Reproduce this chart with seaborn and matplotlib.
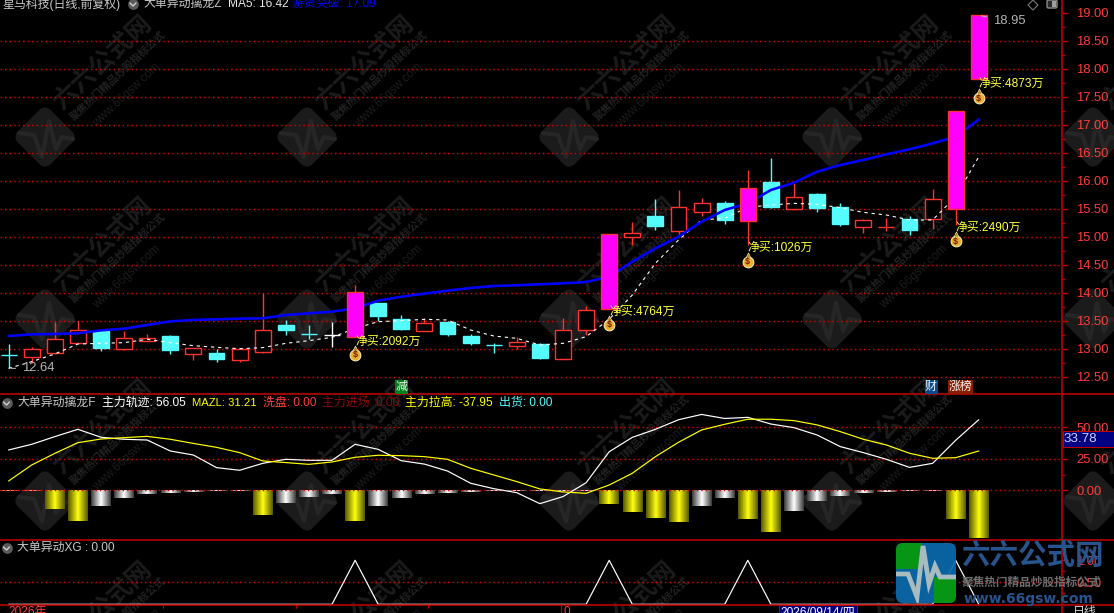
import numpy as np
import pandas as pd
import seaborn as sns
import matplotlib
matplotlib.use("Agg")
import matplotlib.pyplot as plt
from matplotlib.patches import FancyBboxPatch, Rectangle, Polygon
from matplotlib.transforms import Affine2D
from matplotlib.ticker import FixedLocator

# ---------- data ----------
body_top = [12.887,12.988,13.167,13.327,13.315,13.184,13.184,13.226,13.006,12.917,12.988,13.327,13.422,13.268,13.238,
            14.006,13.815,13.524,13.452,13.476,13.226,13.060,13.113,13.083,13.327,13.684,15.042,15.059,15.369,15.524,
            15.595,15.595,15.863,15.976,15.702,15.762,15.524,15.292,15.178,15.310,15.667,17.238,18.952]
body_bot = [12.887,12.857,12.916,13.107,13.018,12.999,13.143,12.982,12.899,12.821,12.792,12.934,13.333,13.268,13.238,
            13.214,13.583,13.345,13.321,13.262,13.107,13.060,13.053,12.833,12.821,13.327,13.714,15.000,15.190,15.107,
            15.446,15.298,15.286,15.536,15.500,15.512,15.232,15.178,15.178,15.119,15.310,15.500,17.821]
high = [13.077,13.024,13.476,13.494,13.333,13.321,13.262,13.244,13.006,12.994,13.006,13.988,13.512,13.417,13.476,
        14.137,13.815,13.601,13.542,13.488,13.262,13.095,13.214,13.095,13.542,13.762,15.042,15.256,15.667,15.833,
        15.690,15.637,16.190,16.405,15.952,15.786,15.595,15.310,15.327,15.369,15.851,17.238,18.952]
low = [12.648,12.750,12.905,13.095,12.964,12.982,13.137,12.911,12.798,12.762,12.768,12.922,13.244,13.167,13.030,
       13.214,13.500,13.333,13.321,13.226,13.065,12.928,12.999,12.821,12.821,13.244,13.714,14.851,15.119,14.990,
       15.369,15.226,14.851,15.512,15.476,15.446,15.190,15.071,15.101,15.030,15.131,15.208,17.821]
candle_kind = list("crrrcrrcrcrrccwmccrcccrcrrmrcrrcmcrccrrcrmm")

blue_line = [13.226,13.256,13.262,13.274,13.327,13.357,13.422,13.488,13.512,13.524,13.536,13.542,13.601,13.631,13.661,
             13.720,13.857,13.928,13.982,14.036,14.083,14.119,14.131,14.149,14.167,14.190,14.286,14.553,14.791,15.000,
             15.268,15.476,15.595,15.833,15.964,16.161,16.280,16.369,16.470,16.560,16.667,16.786,17.095]
white_line = [12.648,12.768,12.905,13.083,13.095,13.107,13.167,13.107,13.053,13.024,12.999,13.018,13.095,13.143,13.202,
              13.363,13.482,13.500,13.524,13.512,13.333,13.226,13.184,13.065,13.095,13.214,13.524,13.958,14.524,14.940,
              15.298,15.327,15.524,15.565,15.595,15.577,15.518,15.434,15.387,15.298,15.298,15.714,16.428]

trace_line = [32.0,36.5,42.6,48.4,42.1,40.5,39.9,31.2,28.0,18.0,15.9,21.4,24.6,23.8,23.8,36.5,32.5,23.5,20.8,15.3,
              5.6,1.3,-1.9,-10.6,-5.0,6.0,30.6,42.0,48.4,56.0,60.2,57.0,57.9,52.6,49.7,43.9,34.7,29.9,24.6,18.2,
              21.4,39.7,56.05]
mazl_line = [7.4,20.1,29.3,37.8,40.7,41.8,42.8,40.5,37.2,34.1,29.9,23.3,22.0,20.6,22.5,26.2,27.8,27.5,26.7,24.6,
             17.5,12.2,6.9,1.1,-1.3,-2.4,4.2,13.5,26.7,38.1,47.9,52.4,56.4,56.4,55.3,51.9,46.6,40.5,36.0,29.4,
             25.4,25.9,31.21]
lift_bars = [-0.3,-0.3,-14.8,-24.3,-12.4,-6.1,-2.9,-2.1,-1.3,-0.5,-0.5,-19.6,-10.0,-5.3,-2.9,-24.3,-12.4,-6.1,-2.9,-2.1,
             -1.3,-0.5,-0.5,-0.3,-0.3,-0.5,-10.8,-17.2,-22.0,-25.1,-12.4,-6.1,-22.8,-33.1,-16.4,-8.5,-4.5,-2.1,-1.3,-0.5,
             -0.5,-22.8,-37.95]
bar_kind = list("rrggsssssssgsssgsssssssssss"[:26]) + list("ggggssggsssssssgg")
xg_line = [0]*15 + [1] + [0]*10 + [1] + [0]*5 + [1] + [0]*8 + [1] + [0]

buy_idx = [15, 26, 32, 41, 42]
buy_text = ["净买:2092万", "净买:4764万", "净买:1026万", "净买:2490万", "净买:4873万"]
buy_text_y = [13.119, 13.655, 14.797, 15.155, 17.726]
buy_bag_y = [12.887, 13.423, 14.548, 14.922, 17.476]

price_ticks = [12.5,13.0,13.5,14.0,14.5,15.0,15.5,16.0,16.5,17.0,17.5,18.0,18.5,19.0]
price_grid = price_ticks[:-1]
ind_ticks = [0, 25, 50]
xg_ticks = [0.5, 1.0]

# ---------- style ----------
W, H = 1114, 613
sns.set_theme(style="dark")
FONT = ["Liberation Sans", "Noto Sans CJK SC", "DejaVu Sans"]
plt.rcParams["font.family"] = FONT
plt.rcParams["axes.unicode_minus"] = False
RED_LINE = "#c00000"
RED_TXT = "#ff3c3c"
GRID = "#dc0000"
PX = 0.72
DOTS = (0, (1.0, 2.1))
GRID_LW = 1.05
EDGE = 1.0

fig = plt.figure(figsize=(W/100, H/100), dpi=100, facecolor="black")

def pane(top, bottom):
    ax = fig.add_axes([0, 1-bottom/H, 1062/W, (bottom-top)/H], zorder=2)
    ax.patch.set_visible(False)
    ax.set_xlim((0-8.6)/23.1, (1062-8.6)/23.1)
    for s in ax.spines.values():
        s.set_visible(False)
    ax.xaxis.set_visible(False)
    ax.grid(False)
    ax.yaxis.tick_right()
    ax.tick_params(axis="y", which="major", right=True, length=6*PX, width=1.4*PX, color=RED_LINE,
                   labelcolor=RED_TXT, labelsize=9.4, pad=8.5*PX)
    ax.tick_params(axis="y", which="minor", right=True, length=3*PX, width=1.4*PX, color=RED_LINE)
    return ax

# background layer for the site watermark (pixel coordinates)
bg = fig.add_axes([0, 0, 1, 1], zorder=0)
bg.set_xlim(0, W); bg.set_ylim(H, 0); bg.axis("off")
for cx in (45, 307, 569, 832, 1093):
    for cy in (137, 319, 501, 683):
        tr = Affine2D().rotate_deg_around(cx, cy, 45) + bg.transData
        bg.add_patch(FancyBboxPatch((cx-21, cy-21), 42, 42, boxstyle="round,pad=0,rounding_size=6",
                                    fc="#1b1b1b", ec="#1b1b1b", lw=3, transform=tr, zorder=1))
        pulse_x = np.array([-26, -11, -3, 4, 11, 17, 28])
        pulse_y = np.array([-4, -2, 20, -16, 12, 0, 2])
        bg.plot(cx+pulse_x, cy+pulse_y, color="#262626", lw=3.0, zorder=2)
        bg.text(cx+58, cy-74, "六六公式网", rotation=43, rotation_mode="anchor", ha="center", va="center",
                fontsize=18, fontweight="bold", color="#1b1b1b", zorder=1)
        bg.text(cx+73, cy-61, "聚焦热门精品炒股指标公式", rotation=43, rotation_mode="anchor", ha="center", va="center",
                fontsize=7.6, fontweight="bold", color="#222222", zorder=1)
        bg.text(cx+82, cy-42, "www.66gsw.com", rotation=43, rotation_mode="anchor", ha="center", va="center",
                fontsize=8.5, color="#1c1c1c", zorder=1)

# ---------- main price pane ----------
ax1 = pane(0, 394)
ax1.set_ylim(19.226-394/56, 19.226)
idx = np.arange(len(body_top))
colors = {"r": "#ff3232", "c": "#54fcfc", "w": "#ffffff", "m": "#ff3232"}
faces = {"r": "#000000", "c": "#54fcfc", "w": "#ffffff", "m": "#ff00ff"}
for i, k in enumerate(candle_kind):
    z = 6 if k == "m" else 3
    ax1.vlines(i, low[i], high[i], color=colors[k], lw=EDGE, zorder=z-0.5)
    ax1.bar(i, body_top[i]-body_bot[i], bottom=body_bot[i], width=0.69, color=faces[k],
            edgecolor=colors[k], linewidth=EDGE, zorder=z)

frame = pd.DataFrame({"i": idx, "blue": blue_line, "white": white_line,
                      "trace": trace_line, "mazl": mazl_line, "xg": xg_line})
sns.lineplot(data=frame, x="i", y="white", ax=ax1, color="white", lw=1.1*PX,
             linestyle=(0, (3, 3.5)), zorder=4, legend=False)
sns.lineplot(data=frame, x="i", y="blue", ax=ax1, color="#0000ff", lw=2.6*PX, zorder=5, legend=False)
ax1.set_xlabel(""); ax1.set_ylabel("")
ax1.hlines(price_grid, *ax1.get_xlim(), color=GRID, lw=GRID_LW, linestyle=DOTS, zorder=1)
ax1.set_yticks(price_ticks, [f"{t:.2f}" for t in price_ticks])
ax1.yaxis.set_minor_locator(FixedLocator([t+0.25 for t in price_ticks[:-1]]))

for i, s, ty, by in zip(buy_idx, buy_text, buy_text_y, buy_bag_y):
    ax1.text(i, ty, s, color="#ffff3c", fontsize=8.6, va="center", ha="left", zorder=8)
    ax1.scatter([i], [by], s=60, c="#e8b030", edgecolors="#fff2c0", linewidths=0.7, zorder=8)
    ax1.scatter([i], [by+0.12], s=14, c="#b88a20", marker="^", edgecolors="#fff2c0", linewidths=0.4, zorder=8)
    ax1.text(i, by, "$", color="#7a1a00", fontsize=6.5, fontweight="bold", ha="center", va="center", zorder=9)

ax1.annotate("12.64", xy=(0, low[0]), xytext=(0.56, low[0]), color="#b4b4b4", fontsize=9.4, va="center",
             arrowprops=dict(arrowstyle="-", color="#b4b4b4", lw=0.8), zorder=8)
ax1.annotate("18.95", xy=(42, 18.952), xytext=(42.6, 18.85), color="#b4b4b4", fontsize=9.4, va="center",
             arrowprops=dict(arrowstyle="-", color="#b4b4b4", lw=0.8), zorder=8)

# ---------- indicator pane ----------
ax2 = pane(394, 540)
ax2.set_ylim(-(540-490.3)/1.26, (490.3-394)/1.26)
x_lim = ax2.get_xlim()
ramp = np.abs(np.linspace(-1, 1, 33))
def metallic(dark, light):
    d, l = np.array(matplotlib.colors.to_rgb(dark)), np.array(matplotlib.colors.to_rgb(light))
    w = (1-ramp)[None, :, None]
    return d*(1-w) + l*w
grads = {"g": metallic("#5a5a00", "#ffff10"), "s": metallic("#3c3c3c", "#ffffff"), "r": metallic("#c01010", "#ffb0a0")}
for i, (v, k) in enumerate(zip(lift_bars, bar_kind)):
    ax2.imshow(grads[k], extent=[i-0.42, i+0.42, v, 0], aspect="auto", interpolation="bilinear", zorder=3)
ax2.set_xlim(x_lim)
ax2.set_ylim(-(540-490.3)/1.26, (490.3-394)/1.26)
ax2.hlines(ind_ticks, *x_lim, color=GRID, lw=GRID_LW, linestyle=DOTS, zorder=4)
sns.lineplot(data=frame, x="i", y="trace", ax=ax2, color="white", lw=1.2*PX, zorder=5, legend=False)
sns.lineplot(data=frame, x="i", y="mazl", ax=ax2, color="#ffff00", lw=1.2*PX, zorder=6, legend=False)
ax2.set_xlabel(""); ax2.set_ylabel("")
ax2.set_yticks(ind_ticks, [f"{t:.2f}" for t in ind_ticks])
ax2.yaxis.set_minor_locator(FixedLocator([12.5, 37.5]))

# ---------- XG pane ----------
ax3 = pane(540, 605)
ax3.set_ylim(-0.016, (604.3-540)/44)
ax3.hlines([0.5], *x_lim, color=GRID, lw=GRID_LW, linestyle=DOTS, zorder=1)
sns.lineplot(data=frame, x="i", y="xg", ax=ax3, color="white", lw=1.2*PX, zorder=4, legend=False)
ax3.set_xlabel(""); ax3.set_ylabel("")
ax3.set_yticks(xg_ticks, ["0.50", "1.00"])
ax3.yaxis.set_minor_locator(FixedLocator([0.25, 0.75]))

# ---------- frame, headers, logo (pixel coordinates) ----------
ov = fig.add_axes([0, 0, 1, 1], zorder=5)
ov.set_xlim(0, W); ov.set_ylim(H, 0); ov.axis("off")
ov.patch.set_visible(False)
for y in (394.3, 540, 605):
    ov.plot([0, W], [y, y], color=RED_LINE, lw=1.6*PX, solid_capstyle="butt", zorder=3)
ov.plot([1062, 1062], [0, H], color=RED_LINE, lw=1.6*PX, solid_capstyle="butt", zorder=3)

def label(x, y, s, c, fs=8.6, **kw):
    ov.text(x, y, s, color=c, fontsize=fs, va="center", ha=kw.pop("ha", "left"), zorder=6, **kw)

def icon(x, y):
    ov.scatter([x], [y], s=60, c="#5a5a5a", zorder=5, linewidths=0)
    ov.plot([x-3, x, x+3], [y-1, y+2, y-1], color="#d0d0d0", lw=1, zorder=6)

label(2, 4, "星马科技(日线,前复权)", "#c8c8c8")
icon(133, 4)
label(143, 4, "大单异动擒龙Z", "#c8c8c8")
label(228, 4, "MA5: 16.42", "#e8e8e8")
label(292, 4, "游资突破: 17.09", "#0000ff")

icon(6.5, 403)
label(17, 403, "大单异动擒龙F", "#c8c8c8")
label(102, 403, "主力轨迹: 56.05", "#ffffff")
label(192, 403, "MAZL: 31.21", "#ffff00", fs=8.1)
label(263, 403, "洗盘: 0.00", "#ff3c3c")
label(322, 403, "主力进场: 0.00", "#8c0a0a")
label(405, 403, "主力拉高: -37.95", "#ffff00")
label(499, 403, "出货: 0.00", "#54fcfc")

icon(6.5, 548)
label(17, 548, "大单异动XG : 0.00", "#c8c8c8")

# signal tags in the price pane
for x, s, bgc, fc, w in ((401, "减", "#00801a", "#f0f0f0", 13), (931, "财", "#0a4a8a", "#f0f0f0", 13),
                         (960.5, "涨榜", "#8a1e00", "#f4f4f4", 25)):
    ov.add_patch(Rectangle((x-w/2, 380), w, 13.5, fc=bgc, ec="none", zorder=5))
    label(x, 386.8, s, fc, ha="center")

# quote-box and date-bar
ov.add_patch(Rectangle((1063, 431), 51, 16, fc="#000080", ec=RED_LINE, lw=1*PX, zorder=5))
label(1064, 439.3, "33.78", "#d0d0ff", fs=9.6)
label(8, 612, "2026年", RED_TXT)
ov.plot([561, 561], [605, H], color=RED_LINE, lw=1.2*PX, zorder=3)
label(563, 612, "0", RED_TXT)
ov.add_patch(Rectangle((779, 605), 78, 9, fc="#000080", ec=RED_LINE, lw=1*PX, zorder=5))
label(818, 612, "2026/09/14/四", "#ffffff", ha="center")
label(1073, 612, "日线", "#d8d8d8")
for x in (163, 296, 428):
    ov.plot([x, x], [605, 608], color=RED_LINE, lw=1*PX, zorder=3)

# top right icons
ov.add_patch(Polygon([(1033, 0), (1038, 5), (1033, 10), (1028, 5)], closed=True, fc="none", ec="#7a7a7a", lw=0.8, zorder=5))
ov.add_patch(FancyBboxPatch((1047, 0), 10, 8, boxstyle="round,pad=0,rounding_size=1.5", fc="#2a2a2a", ec="#8a8a8a", lw=1, zorder=5))
ov.add_patch(Rectangle((1052, 1), 4, 6, fc="#a0a0a0", ec="none", zorder=6))

# logo
clip = FancyBboxPatch((896, 543), 60, 60, boxstyle="round,pad=0,rounding_size=7", fc="#0a69ad", ec="none",
                      zorder=7, alpha=0.93, transform=ov.transData)
ov.add_patch(clip)
for rect in ((896, 543, 26, 26), (934, 577, 22, 26)):
    p = Rectangle(rect[:2], rect[2], rect[3], fc="#069a0a", ec="none", zorder=8, alpha=0.93)
    ov.add_patch(p); p.set_clip_path(clip)
px = np.array([896, 908, 917, 923, 929, 935, 940, 956])
py = np.array([574, 574, 597, 546, 584, 566, 577, 577])
l, = ov.plot(px, py, color="#a8bcc0", lw=3.4, zorder=9, solid_joinstyle="miter")
l.set_clip_path(clip)
ov.text(1032, 556, "六六公式网", color="#27548c", fontsize=20.5, fontweight="bold", ha="center", va="center", zorder=8)
ov.text(1031, 583, "聚焦热门精品炒股指标公式", color="#6e6e6e", fontsize=8.4, fontweight="bold", ha="center", va="center", zorder=8)
ov.text(1028, 599, "www.66gsw.com", color="#27548c", fontsize=10, fontweight="bold", family="DejaVu Sans", ha="center", va="center", zorder=8)

fig.savefig("out.png", dpi=100, facecolor="black")
